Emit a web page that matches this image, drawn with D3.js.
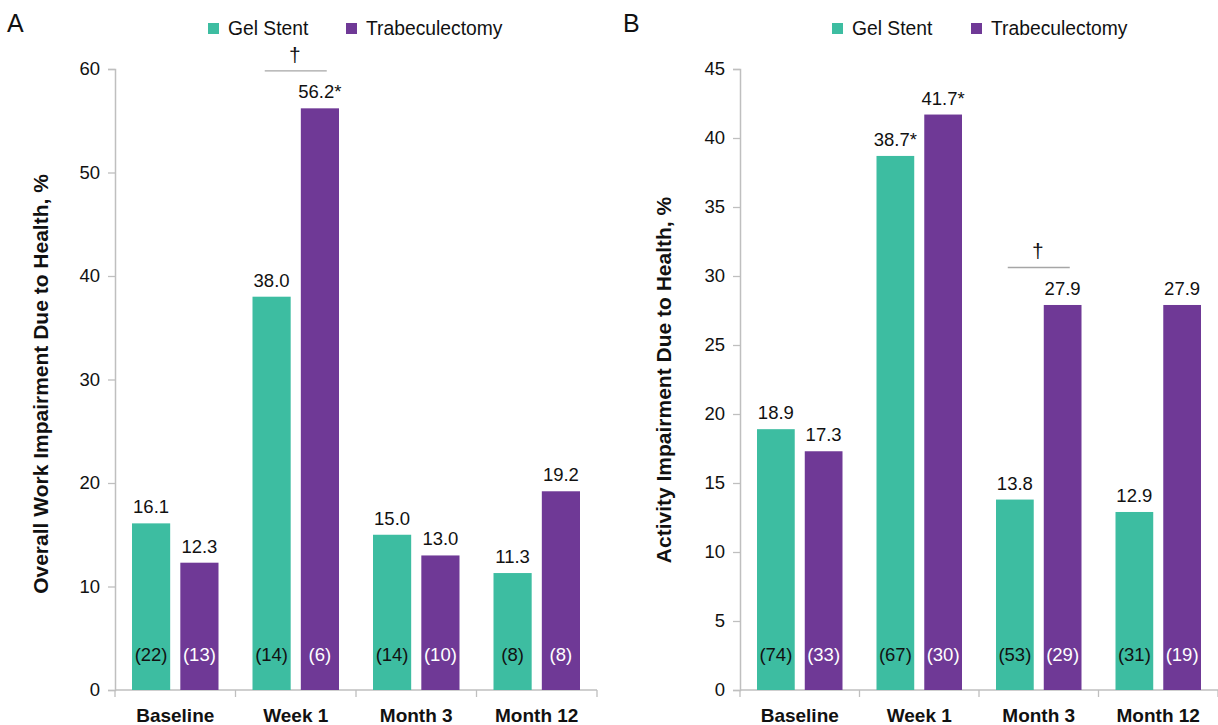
<!DOCTYPE html>
<html>
<head>
<meta charset="utf-8">
<script src="https://cdn.jsdelivr.net/npm/d3@7"></script>
<style>
  html, body { margin: 0; padding: 0; background: #fff; }
  svg { display: block; font-family: "Liberation Sans", Arial, sans-serif; }
</style>
</head>
<body>
<svg id="chart" width="1218" height="725"></svg>
<script>
// Time points shared by both panels
const categories = ["Baseline", "Week 1", "Month 3", "Month 12"];
const seriesNames = ["Gel Stent", "Trabeculectomy"];

// Panel A: overall work impairment (%)
const workGel = [16.1, 38.0, 15.0, 11.3];
const workTrab = [12.3, 56.2, 13.0, 19.2];
const workGelN = [22, 14, 14, 8];
const workTrabN = [13, 6, 10, 8];
const workGelMark = ["", "", "", ""];
const workTrabMark = ["", "*", "", ""];
const workTicks = [0, 10, 20, 30, 40, 50, 60];

// Panel B: activity impairment (%)
const actGel = [18.9, 38.7, 13.8, 12.9];
const actTrab = [17.3, 41.7, 27.9, 27.9];
const actGelN = [74, 67, 53, 31];
const actTrabN = [33, 30, 29, 19];
const actGelMark = ["", "*", "", ""];
const actTrabMark = ["", "*", "", ""];
const actTicks = [0, 5, 10, 15, 20, 25, 30, 35, 40, 45];

const colors = ["#3dbda1", "#6f3996"];
const nTextColors = ["#111", "#fff"];
const axisColor = "#bfbfbf";
const labelSize = 18.5;

const svg = d3.select("#chart");

function drawPanel(opt) {
  const g = svg.append("g");
  const y = d3.scaleLinear().domain([0, opt.max]).range([690, 69]);
  const x0 = d3.scaleBand().domain(categories).range([opt.left, opt.right]).paddingInner(0).paddingOuter(0);
  const x1 = d3.scaleBand().domain(seriesNames).range([17, x0.bandwidth() - 17]).paddingInner(0.21).paddingOuter(0);

  // Panel letter
  g.append("text").attr("x", opt.letterX).attr("y", 32)
    .attr("font-size", 25).attr("fill", "#111").text(opt.letter);

  // Legend
  const lg = g.append("g");
  seriesNames.forEach((s, i) => {
    const lx = opt.legendX[i];
    lg.append("rect").attr("x", lx).attr("y", 23).attr("width", 11).attr("height", 11).attr("fill", colors[i]);
    lg.append("text").attr("x", lx + 20).attr("y", 35).attr("font-size", 19.3).attr("fill", "#111").text(s);
  });

  // Y axis
  const yAxis = g.append("g").attr("transform", `translate(${opt.left},0)`)
    .call(d3.axisLeft(y).tickValues(opt.ticks).tickSize(7).tickPadding(8).tickFormat(d3.format("d")));
  yAxis.select(".domain").attr("stroke", axisColor).attr("stroke-width", 1.5);
  yAxis.selectAll(".tick line").attr("stroke", axisColor).attr("stroke-width", 1.3);
  yAxis.selectAll(".tick text").attr("font-size", labelSize).attr("fill", "#111").attr("font-family", "Liberation Sans, Arial, sans-serif");

  // X axis
  const xAxis = g.append("g").attr("transform", "translate(0,690)");
  xAxis.append("line").attr("x1", opt.left).attr("x2", opt.right).attr("y1", 0).attr("y2", 0)
    .attr("stroke", axisColor).attr("stroke-width", 1.5);
  const edges = categories.map(c => x0(c)).concat([x0(categories[categories.length - 1]) + x0.bandwidth()]);
  edges.forEach(e => {
    xAxis.append("line").attr("x1", e).attr("x2", e).attr("y1", 0).attr("y2", 7)
      .attr("stroke", axisColor).attr("stroke-width", 1.3);
  });
  categories.forEach(c => {
    xAxis.append("text").attr("x", x0(c) + x0.bandwidth() / 2).attr("y", 32)
      .attr("text-anchor", "middle").attr("font-size", 19).attr("font-weight", "bold")
      .attr("fill", "#111").text(c);
  });

  // Y title
  g.append("text")
    .attr("transform", `translate(${opt.titleX},${opt.titleY}) rotate(-90)`)
    .attr("text-anchor", "middle").attr("font-size", 21).attr("font-weight", "bold")
    .attr("fill", "#111").text(opt.title);

  // Bars with value labels on top and sample sizes inside
  const series = [opt.gel, opt.trab];
  const ns = [opt.gelN, opt.trabN];
  const marks = [opt.gelMark, opt.trabMark];
  categories.forEach((c, ci) => {
    seriesNames.forEach((s, si) => {
      const v = series[si][ci];
      const bx = x0(c) + x1(s);
      const bw = x1.bandwidth();
      g.append("rect").attr("x", bx).attr("y", y(v)).attr("width", bw).attr("height", y(0) - y(v))
        .attr("fill", colors[si]);
      g.append("text").attr("x", bx + bw / 2).attr("y", y(v) - 10)
        .attr("text-anchor", "middle").attr("font-size", labelSize).attr("fill", "#111")
        .text(v.toFixed(1) + marks[si][ci]);
      g.append("text").attr("x", bx + bw / 2).attr("y", 661)
        .attr("text-anchor", "middle").attr("font-size", labelSize).attr("fill", nTextColors[si])
        .text("(" + ns[si][ci] + ")");
    });
  });

  // Significance bracket between groups
  const bc = opt.bracket.category;
  const cx = x0(bc) + x0.bandwidth() / 2;
  const top = Math.max(opt.gel[categories.indexOf(bc)], opt.trab[categories.indexOf(bc)]);
  const ly = y(top) - 37.5;
  g.append("line").attr("x1", cx - 31).attr("x2", cx + 31).attr("y1", ly).attr("y2", ly)
    .attr("stroke", "#a6a6a6").attr("stroke-width", 1.3);
  g.append("text").attr("x", cx - 1).attr("y", ly - 9).attr("text-anchor", "middle")
    .attr("font-size", 21).attr("fill", "#111").text("\u2020");
}

drawPanel({
  letter: "A", letterX: 7, left: 115, right: 597, max: 60, ticks: workTicks,
  legendX: [208, 346], titleX: 48, titleY: 384,
  title: "Overall Work Impairment Due to Health, %",
  gel: workGel, trab: workTrab, gelN: workGelN, trabN: workTrabN,
  gelMark: workGelMark, trabMark: workTrabMark,
  bracket: { category: "Week 1" }
});

drawPanel({
  letter: "B", letterX: 623, left: 740, right: 1218, max: 45, ticks: actTicks,
  legendX: [832, 971], titleX: 671, titleY: 380,
  title: "Activity Impairment Due to Health, %",
  gel: actGel, trab: actTrab, gelN: actGelN, trabN: actTrabN,
  gelMark: actGelMark, trabMark: actTrabMark,
  bracket: { category: "Month 3" }
});
</script>
</body>
</html>
